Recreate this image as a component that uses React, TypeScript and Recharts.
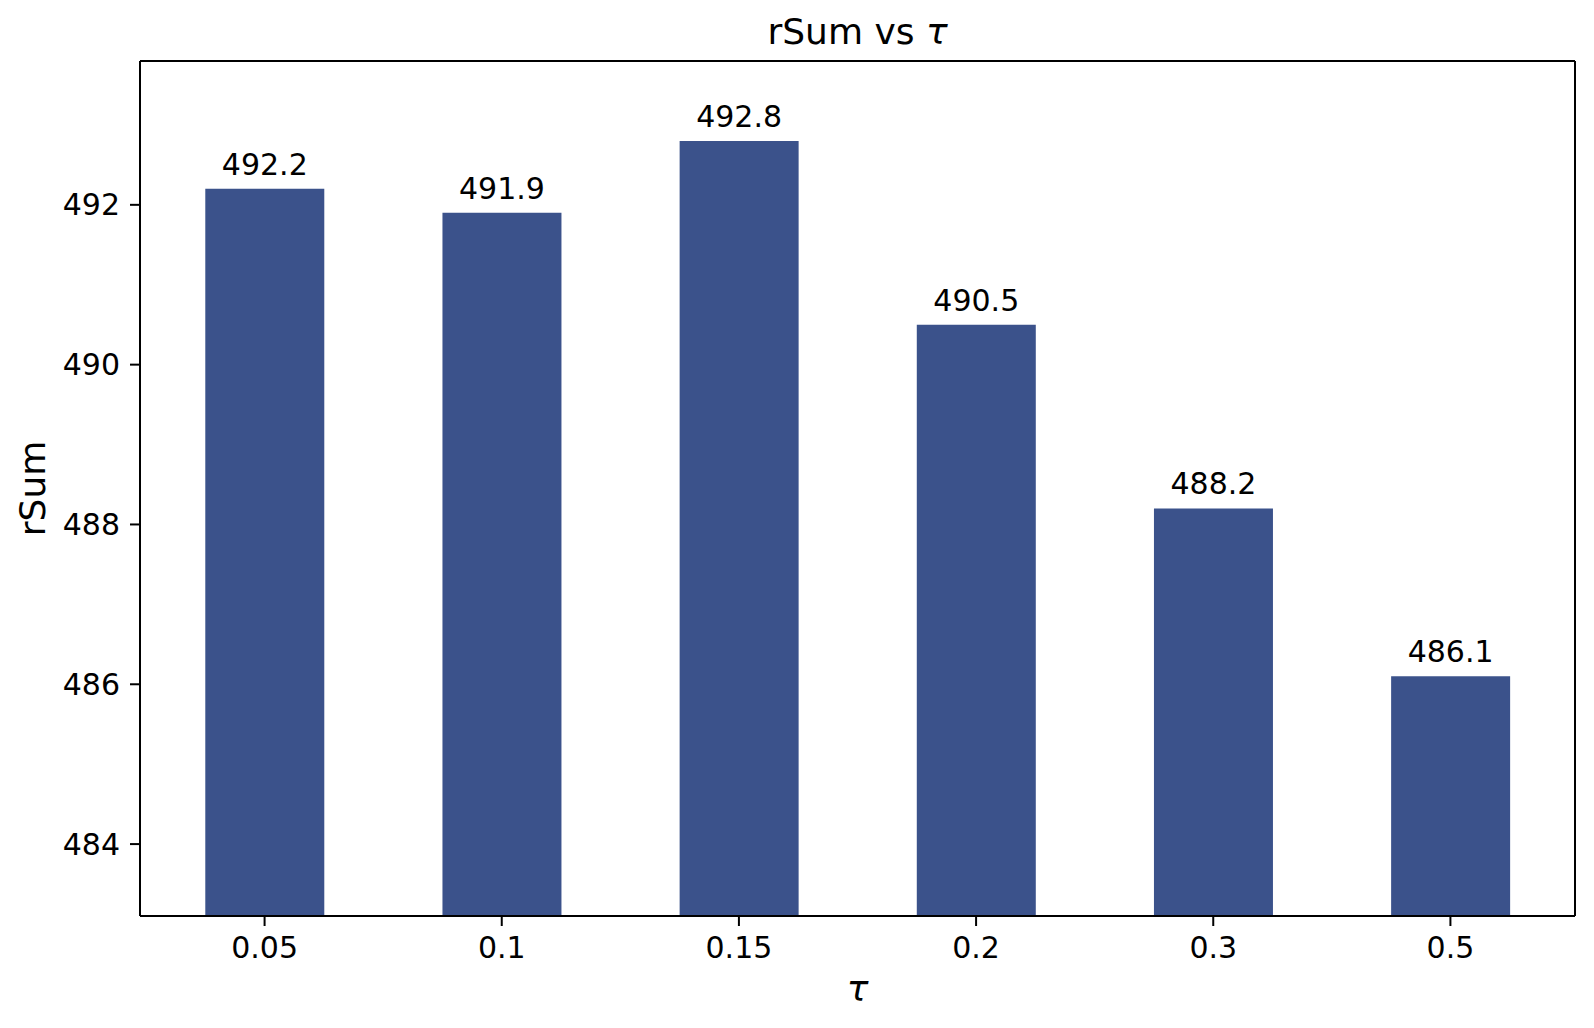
import { BarChart, Bar, XAxis, YAxis, LabelList } from "recharts";

const TAU_LABELS = ["0.05", "0.1", "0.15", "0.2", "0.3", "0.5"];
const RSUM_VALUES = [492.2, 491.9, 492.8, 490.5, 488.2, 486.1];
const Y_TICKS = [484, 486, 488, 490, 492];
const Y_DOMAIN: [number, number] = [483.1, 493.8];

const FONT = "'DejaVu Sans', sans-serif";
const BAR_COLOR = "#3b528b";

const data = TAU_LABELS.map((tau, i) => ({ tau, rsum: RSUM_VALUES[i] }));

const axisLine = { stroke: "#000", strokeWidth: 2 };
const tickStyle = { fill: "#000", fontSize: 30, fontFamily: FONT };

export default function App() {
  return (
    <div style={{ position: "absolute", left: 0, top: 0, width: 1594, height: 1028, background: "#fff" }}>
      <div
        style={{
          position: "absolute",
          left: 140,
          width: 1435,
          top: 12,
          textAlign: "center",
          fontFamily: FONT,
          fontSize: 36,
          lineHeight: "40px",
          color: "#000",
        }}
      >
        rSum vs <span style={{ fontStyle: "italic" }}>τ</span>
      </div>
      <BarChart
        width={1594}
        height={1028}
        data={data}
        margin={{ top: 60, right: 18, bottom: 0, left: 0 }}
        barCategoryGap="25%"
      >
        <XAxis
          dataKey="tau"
          height={112}
          padding={{ left: 6, right: 6 }}
          tickSize={10}
          tickMargin={11}
          tick={tickStyle}
          tickLine={axisLine}
          axisLine={axisLine}
          interval={0}
          label={{
            content: ({ viewBox }: any) => (
              <text
                x={viewBox.x + viewBox.width / 2}
                y={1001}
                textAnchor="middle"
                fontFamily={FONT}
                fontSize={36}
                fontStyle="italic"
                fill="#000"
              >
                τ
              </text>
            ),
          }}
        />
        <XAxis
          xAxisId="top"
          dataKey="tau"
          orientation="top"
          height={1}
          padding={{ left: 6, right: 6 }}
          tick={false}
          tickLine={false}
          axisLine={axisLine}
        />
        <YAxis
          type="number"
          domain={Y_DOMAIN}
          ticks={Y_TICKS}
          allowDataOverflow
          width={140}
          tickSize={10}
          tickMargin={10}
          tick={tickStyle}
          tickLine={axisLine}
          axisLine={axisLine}
          label={{
            content: ({ viewBox }: any) => {
              const cx = 32;
              const cy = viewBox.y + viewBox.height / 2;
              return (
                <text
                  x={cx}
                  y={cy}
                  transform={`rotate(-90, ${cx}, ${cy})`}
                  textAnchor="middle"
                  dominantBaseline="central"
                  fontFamily={FONT}
                  fontSize={36}
                  fill="#000"
                >
                  rSum
                </text>
              );
            },
          }}
        />
        <YAxis
          yAxisId="right"
          orientation="right"
          type="number"
          domain={Y_DOMAIN}
          allowDataOverflow
          width={1}
          tick={false}
          tickLine={false}
          axisLine={axisLine}
        />
        <Bar dataKey="rsum" fill={BAR_COLOR} isAnimationActive={false}>
          <LabelList
            dataKey="rsum"
            position="top"
            offset={14}
            formatter={(v: any) => Number(v).toFixed(1)}
            style={{ fill: "#000", fontSize: 30, fontFamily: FONT }}
          />
        </Bar>
      </BarChart>
    </div>
  );
}
